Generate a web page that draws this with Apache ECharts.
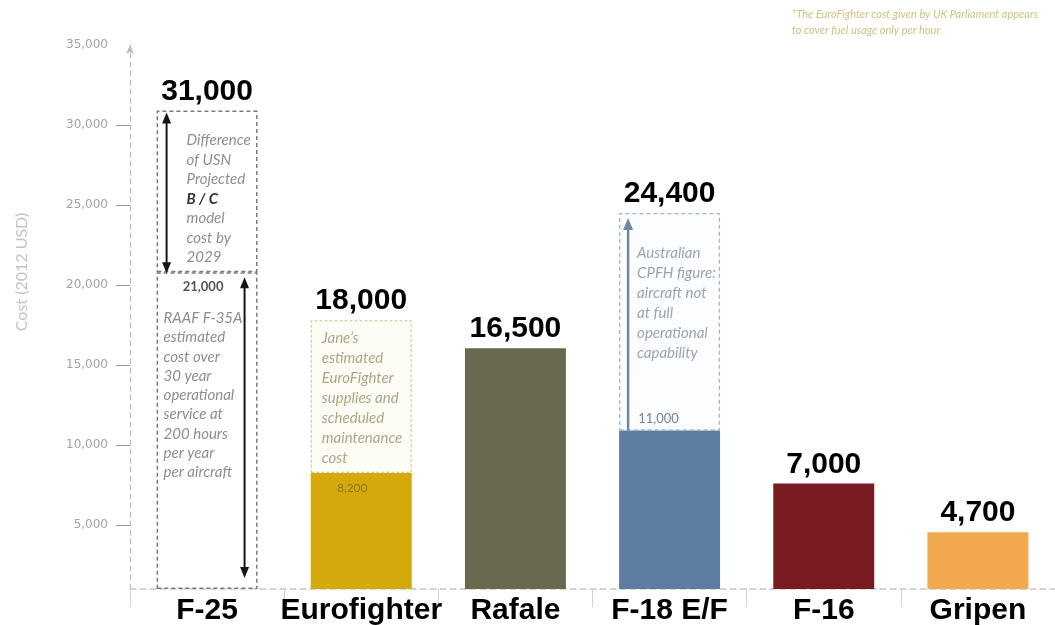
<!DOCTYPE html>
<html>
<head>
<meta charset="utf-8">
<script src="https://cdn.jsdelivr.net/npm/echarts@6/dist/echarts.min.js"></script>
<style>
html,body{margin:0;padding:0;background:#ffffff;}
#chart{width:1055px;height:625px;}
</style>
</head>
<body>
<div id="chart"></div>
<script>
// ---------- data ----------
const categories = ['F-25', 'Eurofighter', 'Rafale', 'F-18 E/F', 'F-16', 'Gripen'];
const solidCost = [20800, 8250, 16050, 10900, 7600, 4550];        // lower / solid part of each bar
const projectedTop = [30900, 17800, null, 24500, null, null];      // top of dashed "projected" boxes
const headlineLabels = ['31,000', '18,000', '16,500', '24,400', '7,000', '4,700'];
const innerValueLabels = ['21,000', '8,200', null, '11,000', null, null];
const yTickValues = [5000, 10000, 15000, 20000, 25000, 30000, 35000];
const f25UpperNote = ['Difference', 'of USN', 'Projected', 'B / C', 'model', 'cost by', '2029'];
const f25LowerNote = ['RAAF F-35A', 'estimated', 'cost over', '30 year', 'operational', 'service at', '200 hours', 'per year', 'per aircraft'];
const euroNote = ['Jane\u2019s', 'estimated', 'EuroFighter', 'supplies and', 'scheduled', 'maintenance', 'cost'];
const f18Note = ['Australian', 'CPFH figure:', 'aircraft not', 'at full', 'operational', 'capability'];
const footNote = ['*The EuroFighter cost given by UK Parliament appears', 'to cover fuel usage only per hour'];

// ---------- styles ----------
const AXIS_MIN = 1000;
const BAR_RATIO = 0.655;
const solidColors = ['#ffffff', '#D4A90B', '#69694F', '#5D7DA3', '#781B22', '#F2A84C'];
const solidBorders = [
  {borderColor: '#7a7a7a', borderWidth: 1.5, borderType: [4, 3]},
  null, null, null, null, null
];
const boxStyles = [
  {color: '#ffffff', borderColor: '#7a7a7a', borderWidth: 1.5, borderType: [4, 3]},
  {color: '#FEFDF5', borderColor: '#D3CD9C', borderWidth: 1.2, borderType: [3, 2]},
  null,
  {color: '#FCFDFF', borderColor: '#A8B3C2', borderWidth: 1.3, borderType: [4, 3]},
  null, null
];

const headlineLabel = {
  show: true,
  position: 'top',
  distance: 4,
  fontSize: 30,
  fontWeight: 'bold',
  fontFamily: '"Liberation Sans", Arial, sans-serif',
  color: '#000000',
  formatter: p => headlineLabels[p.dataIndex]
};

const solidData = solidCost.map((v, i) => ({
  value: v,
  itemStyle: Object.assign({color: solidColors[i]}, solidBorders[i] || {}),
  label: projectedTop[i] == null ? headlineLabel : {show: false}
}));
const boxData = projectedTop.map((t, i) => t == null ? '-' : ({
  value: t - solidCost[i],
  itemStyle: boxStyles[i],
  label: headlineLabel
}));

function arrowHead(x, y, dir, w, h, color) {
  // dir = -1 : pointing up (tip at y) ; +1 : pointing down
  return {
    type: 'polygon',
    shape: {points: [[x, y], [x - w / 2, y - dir * h], [x + w / 2, y - dir * h]]},
    style: {fill: color}
  };
}

function noteLines(children, lines, x, y0, step, color, specials) {
  lines.forEach((s, k) => {
    const sp = specials && specials[s];
    children.push({
      type: 'text',
      style: {
        text: s, x: x, y: y0 + k * step,
        font: sp ? sp.font : 'italic 15px Lato, "Open Sans", sans-serif',
        fill: sp ? sp.fill : color,
        align: 'left', verticalAlign: 'middle'
      }
    });
  });
}

function renderItem(params, api) {
  const i = params.dataIndex;
  const bw = api.size([1, 0])[0] * BAR_RATIO;
  const cx = api.coord([i, solidCost[i]])[0];
  const left = cx - bw / 2;
  const right = cx + bw / 2;
  const ySolid = api.coord([i, solidCost[i]])[1];
  const yBase = api.coord([i, AXIS_MIN])[1];
  const children = [];
  if (i === 0) {
    const yTop = api.coord([i, projectedTop[i]])[1];
    const c = '#151515';
    // upper double arrow
    const ax = left + 10;
    children.push({type: 'line', shape: {x1: ax, y1: yTop + 10, x2: ax, y2: ySolid - 9}, style: {stroke: c, lineWidth: 2}});
    children.push(arrowHead(ax, yTop + 2, -1, 9, 11, c));
    children.push(arrowHead(ax, ySolid + 1, 1, 9, 11, c));
    // lower double arrow
    const bx = right - 13;
    children.push({type: 'line', shape: {x1: bx, y1: ySolid + 14, x2: bx, y2: yBase - 20}, style: {stroke: c, lineWidth: 2}});
    children.push(arrowHead(bx, ySolid + 5, -1, 9, 11, c));
    children.push(arrowHead(bx, yBase - 11, 1, 9, 11, c));
    noteLines(children, f25UpperNote, left + 30, yTop + 30, 19.5, '#8e8e8e',
      {'B / C': {font: 'italic bold 15px Lato, "Open Sans", sans-serif', fill: '#333333'}});
    children.push({type: 'text', style: {text: innerValueLabels[i], x: cx - 4, y: ySolid + 15,
      font: 'bold 13px Lato, "Open Sans", sans-serif', fill: '#555555', align: 'center', verticalAlign: 'middle'}});
    noteLines(children, f25LowerNote, left + 7, ySolid + 46, 19.25, '#8e8e8e');
  } else if (i === 1) {
    const yTop = api.coord([i, projectedTop[i]])[1];
    noteLines(children, euroNote, left + 11, yTop + 18, 20, '#ABA68A');
    children.push({type: 'text', style: {text: innerValueLabels[i], x: cx - 9, y: ySolid + 15,
      font: '12px Lato, "Open Sans", sans-serif', fill: '#8A7620', align: 'center', verticalAlign: 'middle'}});
  } else if (i === 3) {
    const yTop = api.coord([i, projectedTop[i]])[1];
    const c = '#6F85A2';
    const ax = left + 9;
    children.push({type: 'line', shape: {x1: ax, y1: yTop + 14, x2: ax, y2: ySolid}, style: {stroke: c, lineWidth: 2.5}});
    children.push(arrowHead(ax, yTop + 5, -1, 10, 12, c));
    noteLines(children, f18Note, left + 18, yTop + 40, 20, '#9AA4AE');
    children.push({type: 'text', style: {text: innerValueLabels[i], x: cx - 11, y: ySolid - 12,
      font: '13px Lato, "Open Sans", sans-serif', fill: '#7A8590', align: 'center', verticalAlign: 'middle'}});
  }
  return {type: 'group', children: children};
}

const chart = echarts.init(document.getElementById('chart'), null, {renderer: 'canvas'});
chart.setOption({
  animation: false,
  backgroundColor: '#ffffff',
  grid: {left: 130, right: 0, top: 45, bottom: 36, containLabel: false, outerBoundsMode: 'none'},
  xAxis: {
    type: 'category',
    data: categories,
    axisLine: {onZero: false, lineStyle: {color: '#c6c6c6', width: 1.5, type: [6, 4]}},
    axisTick: {show: true, length: 18, lineStyle: {color: '#d2d2d2'}},
    axisLabel: {
      margin: 7, fontSize: 30, fontWeight: 'bold', color: '#000000',
      fontFamily: '"Liberation Sans", Arial, sans-serif', interval: 0
    }
  },
  yAxis: {
    type: 'value',
    min: AXIS_MIN,
    max: 35000,
    startValue: AXIS_MIN,
    name: 'Cost (2012 USD)',
    nameLocation: 'middle',
    nameGap: 100,
    nameTextStyle: {color: '#c4c4c4', fontSize: 16, fontFamily: 'Lato, sans-serif', padding: [0, 0, 0, 90]},
    axisLine: {show: true, lineStyle: {color: '#bdbdbd', width: 1.2, type: [5, 4]}, symbol: ['none', 'arrow'], symbolSize: [6, 9]},
    axisTick: {show: true, length: 14, lineStyle: {color: '#9a9a9a'}, customValues: yTickValues.slice(0, -1)},
    axisLabel: {
      customValues: yTickValues, margin: 22, color: '#a3a3a3', fontSize: 12,
      fontFamily: '"DejaVu Sans", sans-serif',
      formatter: v => v.toLocaleString('en-US')
    },
    splitLine: {show: false}
  },
  series: [
    {name: 'solid', type: 'bar', stack: 'cost', barWidth: (BAR_RATIO * 100) + '%', data: solidData, clip: true},
    {name: 'projected', type: 'bar', stack: 'cost', barWidth: (BAR_RATIO * 100) + '%', data: boxData, clip: true},
    {
      name: 'annotations', type: 'custom', renderItem: renderItem, silent: true, z: 10,
      encode: {x: 0, y: 1},
      data: categories.map((c, i) => [i, solidCost[i]])
    }
  ],
  graphic: [{
    type: 'text', left: 792, top: 6, silent: true,
    style: {
      text: footNote.join('\n'), font: 'italic 11px Lato, "Open Sans", sans-serif',
      fill: '#CFC27E', lineHeight: 16
    }
  }]
});
</script>
</body>
</html>
